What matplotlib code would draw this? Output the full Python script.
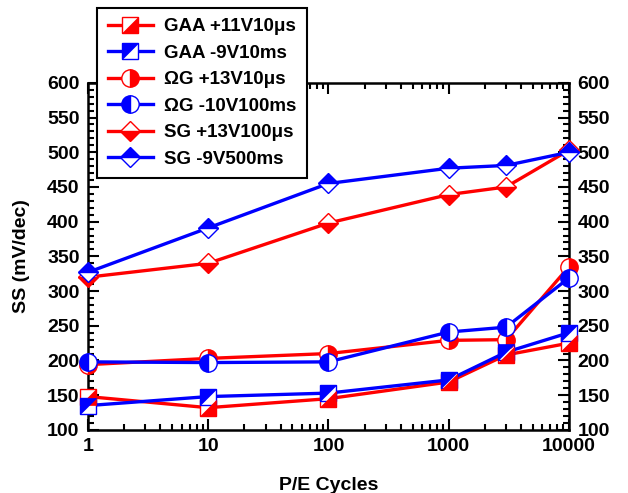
import matplotlib
matplotlib.use('Agg')
import matplotlib.pyplot as plt
import matplotlib.ticker as ticker
from matplotlib.legend_handler import HandlerTuple

plt.rcParams['font.family'] = ['Liberation Sans', 'DejaVu Sans']
plt.rcParams['font.weight'] = 'bold'

cycles = [1, 10, 100, 1000, 3000, 10000]

gaa_prog = [148, 132, 145, 169, 208, 225]
gaa_ers = [135, 148, 153, 172, 212, 240]
og_prog = [194, 203, 210, 229, 230, 335]
og_ers = [198, 197, 198, 241, 248, 319]
sg_prog = [320, 340, 398, 439, 450, 503]
sg_ers = [327, 391, 455, 477, 481, 500]

labels = ['GAA +11V10\u03bcs', 'GAA -9V10ms', '\u03a9G +13V10\u03bcs',
          '\u03a9G -10V100ms', 'SG +13V100\u03bcs', 'SG -9V500ms']

RED = '#ff0000'
BLUE = '#0000ff'

fig = plt.figure(figsize=(6.28, 4.93), dpi=100)
ax = fig.add_axes([0.140, 0.128, 0.766, 0.704])

lw = 2.4
# triangles for the diagonal half filled squares
lower_right = [(-1, -1), (1, -1), (1, 1), (-1, -1)]
upper_left = [(-1, -1), (-1, 1), (1, 1), (-1, -1)]

handles = []

def square_series(y, color, tri):
    l1, = ax.plot(cycles, y, '-', color=color, lw=lw, marker='s', ms=11.5,
                  mfc='white', mec=color, mew=1.0, clip_on=False, zorder=3)
    l2, = ax.plot(cycles, y, ls='none', marker=tri, ms=11.5, mfc=color,
                  mec=color, mew=0.5, clip_on=False, zorder=4)
    return (l1, l2)

handles.append(square_series(gaa_prog, RED, lower_right))
handles.append(square_series(gaa_ers, BLUE, upper_left))

l, = ax.plot(cycles, og_prog, '-', color=RED, lw=lw, marker='o', ms=12.5,
             fillstyle='right', mfc=RED, mfcalt='white', mec=RED, mew=1.0,
             clip_on=False, zorder=3)
handles.append(l)
l, = ax.plot(cycles, og_ers, '-', color=BLUE, lw=lw, marker='o', ms=12.5,
             fillstyle='left', mfc=BLUE, mfcalt='white', mec=BLUE, mew=1.0,
             clip_on=False, zorder=3)
handles.append(l)
l, = ax.plot(cycles, sg_prog, '-', color=RED, lw=lw, marker='D', ms=10.5,
             fillstyle='bottom', mfc=RED, mfcalt='white', mec=RED, mew=1.0,
             clip_on=False, zorder=3)
handles.append(l)
l, = ax.plot(cycles, sg_ers, '-', color=BLUE, lw=lw, marker='D', ms=10.5,
             fillstyle='top', mfc=BLUE, mfcalt='white', mec=BLUE, mew=1.0,
             clip_on=False, zorder=3)
handles.append(l)

ax.set_xscale('log')
ax.set_xlim(1, 10000)
ax.set_ylim(100, 600)
ax.xaxis.set_major_locator(ticker.LogLocator(base=10))
ax.xaxis.set_major_formatter(ticker.FuncFormatter(lambda v, p: '%d' % v))
ax.xaxis.set_minor_locator(ticker.LogLocator(base=10, subs=range(2, 10)))
ax.xaxis.set_minor_formatter(ticker.NullFormatter())
ax.yaxis.set_major_locator(ticker.MultipleLocator(50))
ax.yaxis.set_minor_locator(ticker.MultipleLocator(10))

ax.tick_params(which='both', direction='in', top=True, right=True,
               labelright=True, labelsize=14, width=1.5, pad=6)
ax.tick_params(which='major', length=8)
ax.tick_params(which='minor', length=4)
for s in ax.spines.values():
    s.set_linewidth(1.8)

ax.set_xlabel('P/E Cycles', fontsize=14, fontweight='bold', labelpad=16)
ax.set_ylabel('SS (mV/dec)', fontsize=14, fontweight='bold', labelpad=12)

leg = fig.legend(handles, labels, loc='upper left',
                 bbox_to_anchor=(0.155, 0.984), numpoints=1,
                 handler_map={tuple: HandlerTuple(ndivide=1)},
                 prop={'weight': 'bold', 'size': 13.5}, fancybox=False,
                 handlelength=2.4, labelspacing=0.5, borderpad=0.55,
                 handletextpad=0.6, borderaxespad=0, framealpha=1)
leg.get_frame().set_edgecolor('black')
leg.get_frame().set_linewidth(1.5)
leg.set_zorder(10)

fig.savefig('out.png', dpi=100)
